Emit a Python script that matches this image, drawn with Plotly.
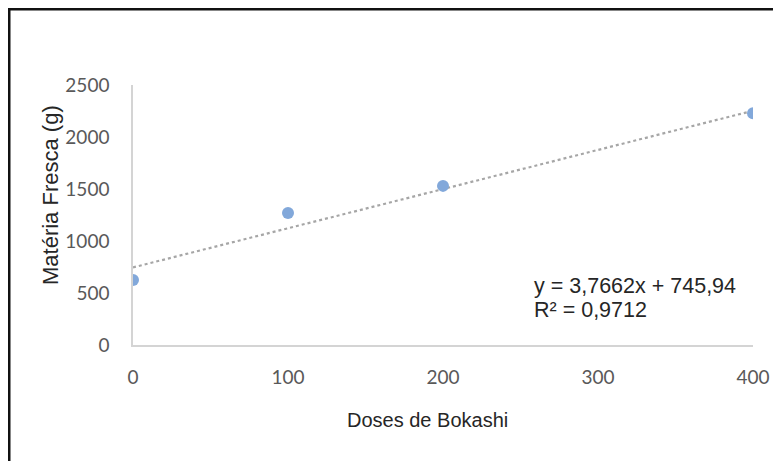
import plotly.graph_objects as go

# Data
doses = [0, 100, 200, 400]
materia_fresca = [625, 1270, 1530, 2228]
trend_slope = 3.7662
trend_intercept = 745.94
x_ticks = [0, 100, 200, 300, 400]
y_ticks = [0, 500, 1000, 1500, 2000, 2500]
eq_text = "y = 3,7662x + 745,94"
r2_text = "R² = 0,9712"

trend_x = [0, 400]
trend_y = [trend_slope * v + trend_intercept for v in trend_x]

# page has an 8px body margin: work in reference pixels, shifted by OFF
OFF = 8
W, H = 781 - OFF, 461 - OFF
L, R, T, B = 133 - OFF, 28, 85 - OFF, 116
pw, ph = W - L - R, H - T - B

def px_x(p):
    return (p - OFF - L) / pw

def px_y(p):
    return (H - B - (p - OFF)) / ph

fig = go.Figure()
fig.add_trace(go.Scatter(
    x=trend_x, y=trend_y, mode="lines",
    line=dict(color="#a6a6a6", width=2.2, dash="3px,3px"),
    hoverinfo="skip", showlegend=False,
))
fig.add_trace(go.Scatter(
    x=doses, y=materia_fresca, mode="markers",
    marker=dict(size=12, color="#82a8da"),
    showlegend=False,
))

tickfont = dict(family="Lato, Carlito, sans-serif", size=19, color="#595959")
fig.update_xaxes(
    range=[0, 400], tickvals=x_ticks, showgrid=False, zeroline=False,
    showline=True, linecolor="#d4d4d4", linewidth=1.5,
    tickfont=tickfont, ticks="", ticklabelstandoff=14,
)
fig.update_yaxes(
    range=[0, 2500], tickvals=y_ticks, showgrid=False, zeroline=False,
    showline=True, linecolor="#d4d4d4", linewidth=1.5,
    tickfont=tickfont, ticks="", ticklabelstandoff=18,
)

ann_font = dict(family="Liberation Sans, Arial, sans-serif", size=21.5, color="#262626")
fig.add_annotation(x=px_x(532), y=px_y(286), xref="paper", yref="paper",
                   text=eq_text, showarrow=False, xanchor="left", yanchor="middle",
                   font=ann_font)
fig.add_annotation(x=px_x(532), y=px_y(310), xref="paper", yref="paper",
                   text=r2_text, showarrow=False, xanchor="left", yanchor="middle",
                   font=ann_font)
fig.add_annotation(x=px_x(427), y=px_y(420), xref="paper", yref="paper",
                   text="Doses de Bokashi", showarrow=False, xanchor="center", yanchor="middle",
                   font=dict(family="Liberation Sans, Arial, sans-serif", size=20, color="#262626"))
fig.add_annotation(x=px_x(50), y=px_y(195), xref="paper", yref="paper",
                   text="Matéria Fresca (g)", showarrow=False, textangle=-90,
                   xanchor="center", yanchor="middle",
                   font=dict(family="Liberation Sans, Arial, sans-serif", size=22, color="#262626"))

# Frame (top and left border)
fig.add_shape(type="path", xref="paper", yref="paper",
              path=f"M {px_x(9)} {px_y(480)} L {px_x(9)} {px_y(9)} L {px_x(800)} {px_y(9)}",
              line=dict(color="#111111", width=3))

fig.update_layout(
    width=W, height=H,
    margin=dict(l=L, r=R, t=T, b=B),
    paper_bgcolor="white", plot_bgcolor="white",
)
fig.write_html("out.html")
